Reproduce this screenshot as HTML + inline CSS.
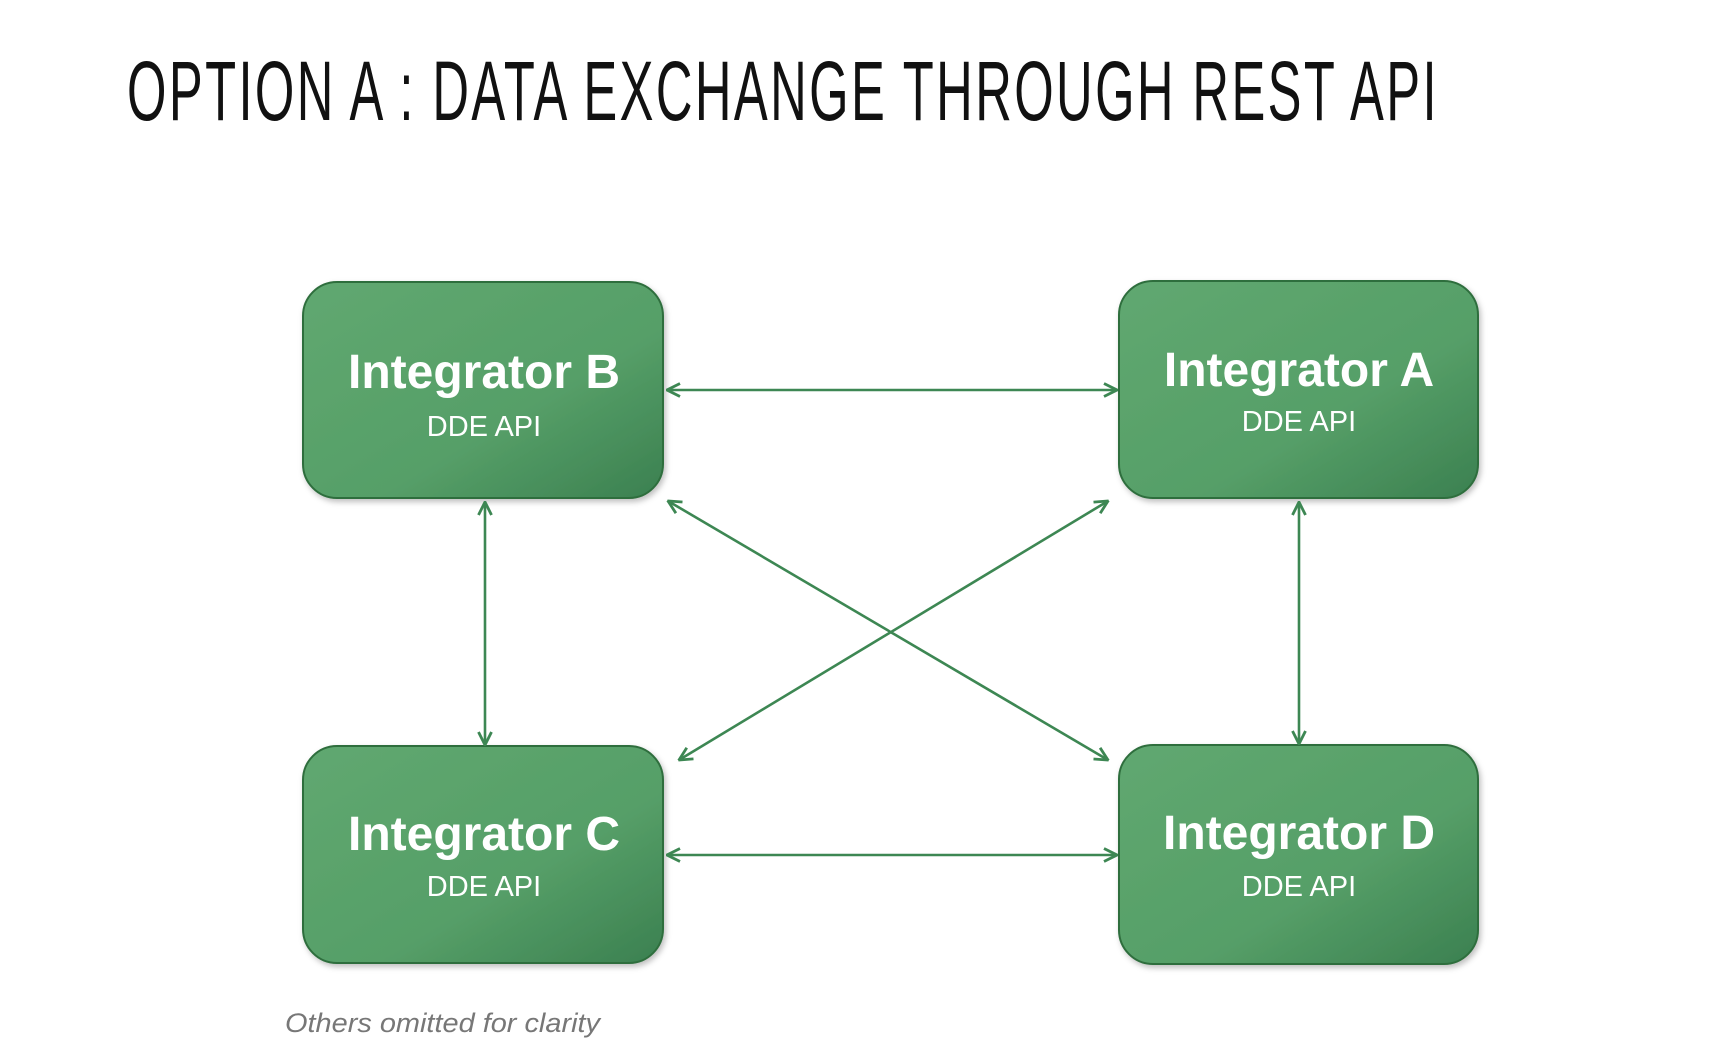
<!DOCTYPE html>
<html><head><meta charset="utf-8"><style>
html,body{margin:0;padding:0;background:#fff;}
svg{display:block;}
</style></head><body>
<svg width="1713" height="1051" viewBox="0 0 1713 1051" xmlns="http://www.w3.org/2000/svg">
<defs>
<linearGradient id="g" x1="0" y1="0" x2="1" y2="1">
<stop offset="0" stop-color="#60a870"/>
<stop offset="0.6" stop-color="#569f68"/>
<stop offset="1" stop-color="#3b8050"/>
</linearGradient>
<filter id="sh" x="-10%" y="-10%" width="130%" height="130%">
<feDropShadow dx="2" dy="3" stdDeviation="3" flood-color="#000" flood-opacity="0.25"/>
</filter>
<marker id="ah" viewBox="0 0 16 16" refX="15" refY="8" markerWidth="16" markerHeight="16" markerUnits="userSpaceOnUse" orient="auto-start-reverse">
<path d="M2,1.5 L15,8 L2,14.5" fill="none" stroke="#3d8753" stroke-width="2.8"/>
</marker>
</defs>
<text x="127" y="120" font-family="Liberation Sans, sans-serif" font-size="84" fill="#111" letter-spacing="4" textLength="1312" lengthAdjust="spacingAndGlyphs">OPTION A : DATA EXCHANGE THROUGH REST API</text>

<g fill="url(#g)" stroke="#2f6e3e" stroke-width="2" filter="url(#sh)">
<rect x="303" y="282" width="360" height="216" rx="34"/>
<rect x="1119" y="281" width="359" height="217" rx="34"/>
<rect x="303" y="746" width="360" height="217" rx="34"/>
<rect x="1119" y="745" width="359" height="219" rx="34"/>
</g>

<g stroke="#3d8753" stroke-width="2.6" fill="none" marker-start="url(#ah)" marker-end="url(#ah)">
<line x1="667" y1="390" x2="1117" y2="390"/>
<line x1="667" y1="855" x2="1117" y2="855"/>
<line x1="485" y1="502" x2="485" y2="745"/>
<line x1="1299" y1="502" x2="1299" y2="744"/>
<line x1="668" y1="501" x2="1108" y2="760"/>
<line x1="1108" y1="501" x2="679" y2="760"/>
</g>

<g font-family="Liberation Sans, sans-serif" fill="#fff" text-anchor="middle">
<text x="484" y="388" font-size="48" font-weight="bold">Integrator B</text>
<text x="484" y="436" font-size="29">DDE API</text>
<text x="1299" y="386" font-size="48" font-weight="bold">Integrator A</text>
<text x="1299" y="431" font-size="29">DDE API</text>
<text x="484" y="850" font-size="48" font-weight="bold">Integrator C</text>
<text x="484" y="896" font-size="29">DDE API</text>
<text x="1299" y="849" font-size="48" font-weight="bold">Integrator D</text>
<text x="1299" y="896" font-size="29">DDE API</text>
</g>

<text x="285" y="1032" font-family="Liberation Sans, sans-serif" font-style="italic" font-size="27" fill="#777" textLength="315" lengthAdjust="spacingAndGlyphs">Others omitted for clarity</text>
</svg>
</body></html>
